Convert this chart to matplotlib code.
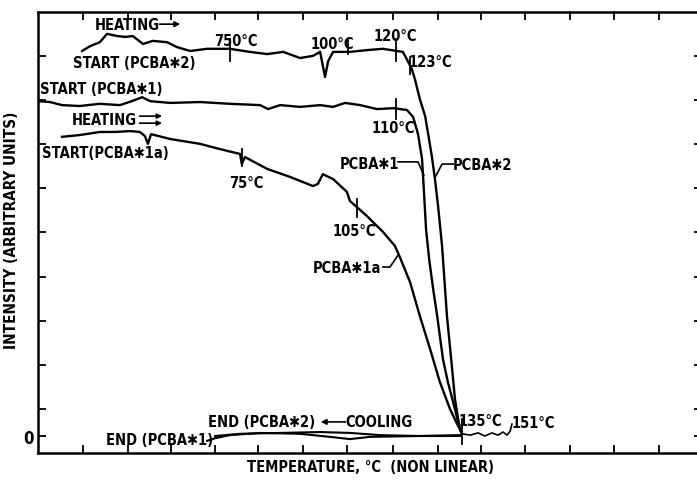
import matplotlib
matplotlib.use("Agg")
import matplotlib.pyplot as plt

# -------------------------
# Data
# x: temperature scale position (non linear, 1 unit = 1 tick)
# y: intensity (arbitrary units)
# -------------------------
pcba2_x = [0.99, 1.17, 1.39, 1.55, 1.78, 1.96, 2.13, 2.36, 2.58, 2.90, 3.12, 3.42,
           3.80, 4.31, 4.76, 5.15, 5.51, 5.89, 6.18, 6.34, 6.45, 6.52, 6.63, 7.01,
           7.39, 7.75, 8.07, 8.20, 8.31, 8.40, 8.47, 8.58, 8.70, 8.76, 8.85, 8.92,
           8.99, 9.08, 9.19, 9.30, 9.37, 9.44, 9.48, 9.53]
pcba2_y = [8.75, 8.86, 8.95, 9.14, 9.09, 9.07, 9.09, 8.91, 8.98, 8.95, 8.84, 8.75,
           8.80, 8.80, 8.73, 8.68, 8.73, 8.59, 8.64, 8.73, 8.16, 8.52, 8.73, 8.73,
           8.77, 8.80, 8.75, 8.73, 8.52, 8.34, 8.11, 7.66, 7.27, 6.91, 6.36, 5.84,
           5.23, 4.32, 2.73, 1.59, 0.84, 0.39, 0.16, 0.05]

pcba1_x = [0.00, 0.27, 0.54, 0.94, 1.39, 1.84, 2.11, 2.34, 2.52, 2.97, 3.64, 4.31,
           4.99, 5.17, 5.44, 5.89, 6.34, 6.63, 6.90, 7.24, 7.62, 7.98, 8.29, 8.43,
           8.54, 8.63, 8.67, 8.72, 8.79, 8.88, 8.97, 9.10, 9.21, 9.37, 9.48, 9.53]
pcba1_y = [7.61, 7.59, 7.52, 7.50, 7.55, 7.52, 7.61, 7.70, 7.61, 7.57, 7.59, 7.55,
           7.52, 7.43, 7.52, 7.48, 7.52, 7.48, 7.57, 7.52, 7.43, 7.45, 7.41, 7.25,
           6.86, 6.30, 5.61, 4.70, 4.02, 3.34, 2.73, 1.75, 1.23, 0.61, 0.16, 0.05]

pcba1a_x = [0.54, 0.94, 1.39, 1.73, 2.07, 2.29, 2.40, 2.47, 2.54, 2.97, 3.64, 4.09,
            4.54, 4.58, 4.65, 5.15, 5.66, 6.18, 6.29, 6.40, 6.63, 6.94, 7.01, 7.17,
            7.39, 7.75, 8.02, 8.13, 8.36, 8.58, 8.81, 9.03, 9.26, 9.42, 9.48, 9.53]
pcba1a_y = [6.80, 6.84, 6.91, 6.91, 6.93, 6.91, 6.82, 6.64, 6.86, 6.75, 6.64, 6.52,
            6.41, 6.18, 6.34, 6.07, 5.89, 5.68, 5.73, 5.95, 5.84, 5.55, 5.34, 5.20,
            5.00, 4.64, 4.32, 4.07, 3.50, 2.73, 1.98, 1.23, 0.61, 0.27, 0.16, 0.05]

# heating beyond 135 C up to 151 C
hot_x = [9.53, 9.71, 9.89, 10.04, 10.20, 10.34, 10.45, 10.54, 10.61, 10.65]
hot_y = [0.05, 0.02, 0.07, 0.00, 0.07, 0.02, 0.09, 0.02, 0.11, 0.27]

# cooling curves
cool2_x = [9.48, 8.58, 7.69, 7.01, 6.34, 5.44, 4.54, 3.98]
cool2_y = [0.02, 0.00, 0.02, 0.07, 0.09, 0.07, 0.05, 0.00]
cool1_x = [9.48, 8.58, 7.46, 7.01, 6.56, 5.89, 4.99, 4.31, 3.98, 3.80]
cool1_y = [0.00, 0.00, -0.02, -0.07, -0.02, 0.05, 0.07, 0.02, -0.05, -0.11]

# temperature marks: (x, y_low, y_high)
marks = [(4.31, 8.52, 9.02), (6.97, 8.68, 9.02), (8.04, 8.52, 9.02),
         (8.36, 8.23, 8.61), (8.04, 7.20, 7.66), (4.58, 6.14, 6.52),
         (7.17, 4.98, 5.39), (9.53, -0.18, 0.39)]

ST = "\u2731"

plt.rcParams['font.family'] = ['DejaVu Sans']
plt.rcParams['font.weight'] = 'bold'
plt.rcParams['font.stretch'] = 'condensed'

fig = plt.figure(figsize=(6.97, 4.81), dpi=100)
W, H = 697, 481
ax = fig.add_axes([38 / W, (481 - 454) / H, (702 - 38) / W, (454 - 13) / H])

lw = 1.7
ax.plot(pcba2_x, pcba2_y, color="black", lw=lw)
ax.plot(pcba1_x, pcba1_y, color="black", lw=lw)
ax.plot(pcba1a_x, pcba1a_y, color="black", lw=lw)
ax.plot(hot_x, hot_y, color="black", lw=1.2)
ax.plot(cool2_x, cool2_y, color="black", lw=1.5)
ax.plot(cool1_x, cool1_y, color="black", lw=1.5)
for mx, y0, y1 in marks:
    ax.plot([mx, mx], [y0, y1], color="black", lw=1.3)

ax.set_xlim(0, (702 - 38) / 44.5)
ax.set_ylim((437 - 454) / 44, (437 - 13) / 44)

xt = [(px - 38) / 44.5 for px in [83, 128, 171, 215, 258, 303, 347, 393, 438, 481, 525, 570, 614, 659]]
ax.set_xticks(xt)
ax.set_xticklabels([])
yt = [0] + [(437 - py) / 44 for py in [410, 366, 322, 278, 233, 189, 145, 101, 57]]
ax.set_yticks(yt)
ax.set_yticklabels(["0"] + [""] * 9, fontsize=12)
ax.tick_params(direction="in", length=6, width=1.3, top=True, right=True, pad=3)
for s in ax.spines.values():
    s.set_linewidth(1.8)

fs = 10.5
tk = dict(fontsize=fs, fontweight="bold", ha="center", va="center")
ax.text(2.0, 9.36, "HEATING", **tk)
ax.annotate("", xy=(3.26, 9.36), xytext=(2.67, 9.36),
            arrowprops=dict(arrowstyle="-|>", color="black", lw=1.2, mutation_scale=8))
ax.text(4.45, 8.98, "750°C", **tk)
ax.text(6.61, 8.91, "100°C", **tk)
ax.text(8.04, 9.11, "120°C", **tk)
ax.text(8.81, 8.52, "123°C", **tk)
ax.text(2.16, 8.48, "START (PCBA" + ST + "2)", **tk)
ax.text(1.42, 7.89, "START (PCBA" + ST + "1)", **tk)
ax.text(1.48, 7.20, "HEATING", **tk)
for yy in (7.27, 7.11):
    ax.annotate("", xy=(2.85, yy), xytext=(2.22, yy),
                arrowprops=dict(arrowstyle="-|>", color="black", lw=1.2, mutation_scale=7))
ax.text(1.51, 6.45, "START(PCBA" + ST + "1a)", **tk)
ax.text(4.67, 5.75, "75°C", **tk)
ax.text(7.98, 7.02, "110°C", **tk)
ax.text(7.46, 6.20, "PCBA" + ST + "1", **tk)
ax.plot([8.09, 8.54, 8.67], [6.23, 6.23, 5.93], color="black", lw=1.2)
ax.text(10.0, 6.18, "PCBA" + ST + "2", **tk)
ax.plot([9.33, 9.08, 8.94], [6.18, 6.18, 5.91], color="black", lw=1.2)
ax.text(7.10, 4.68, "105°C", **tk)
ax.text(6.94, 3.84, "PCBA" + ST + "1a", **tk)
ax.plot([7.75, 7.91, 8.09], [3.84, 3.84, 4.11], color="black", lw=1.2)
ax.text(9.93, 0.36, "135°C", **tk)
ax.text(11.12, 0.30, "151°C", **tk)
ax.text(5.03, 0.32, "END (PCBA" + ST + "2)", **tk)
ax.annotate("", xy=(6.29, 0.32), xytext=(6.97, 0.32),
            arrowprops=dict(arrowstyle="-|>", color="black", lw=1.2, mutation_scale=8))
ax.text(7.66, 0.32, "COOLING", **tk)
ax.text(2.74, -0.09, "END (PCBA" + ST + "1)", **tk)

fig.text(12 / W, 1 - 230 / H, "INTENSITY (ARBITRARY UNITS)", rotation=90,
         ha="center", va="center", fontsize=11, fontweight="bold")
fig.text(371 / W, 1 - 468 / H, "TEMPERATURE, °C  (NON LINEAR)",
         ha="center", va="center", fontsize=10.5, fontweight="bold")

fig.savefig("out.png", dpi=100)
